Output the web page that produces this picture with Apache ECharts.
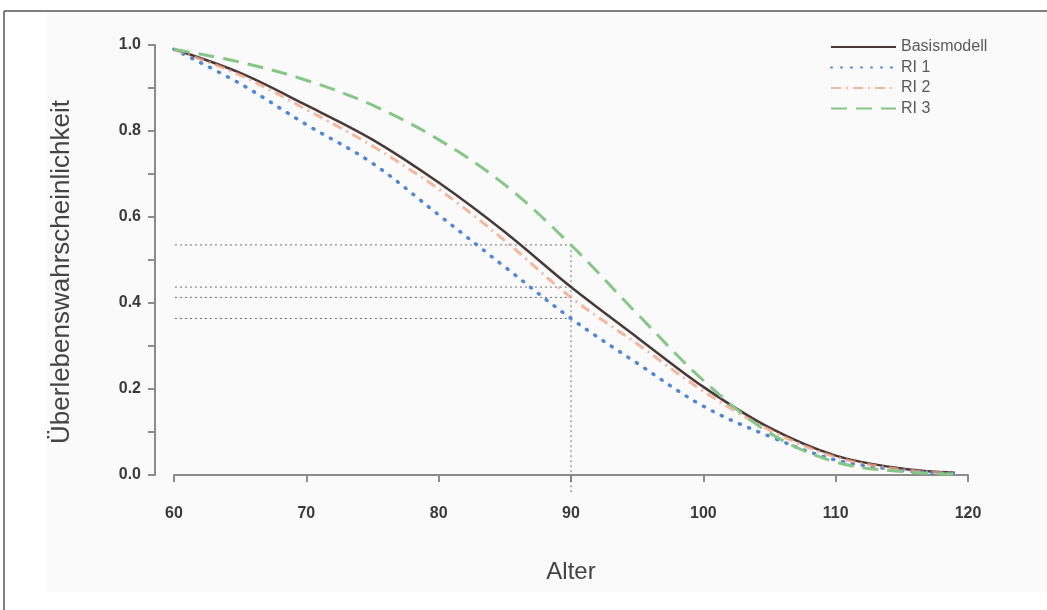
<!DOCTYPE html>
<html>
<head>
<meta charset="utf-8">
<script src="https://cdn.jsdelivr.net/npm/echarts@6/dist/echarts.min.js"></script>
<style>
html,body{margin:0;padding:0;background:#ffffff;}
#chart{width:1047px;height:610px;}
</style>
</head>
<body>
<div id="chart"></div>
<script>
// ---- data ----
const ages  = [60, 65, 70, 75, 80, 85, 90, 95, 100, 105, 110, 115, 119];
const basis = [0.99, 0.935, 0.86, 0.78, 0.68, 0.565, 0.437, 0.32, 0.205, 0.11, 0.045, 0.015, 0.005];
const ri1   = [0.99, 0.91, 0.815, 0.725, 0.605, 0.484, 0.364, 0.26, 0.16, 0.09, 0.035, 0.011, 0.003];
const ri2   = [0.99, 0.93, 0.85, 0.765, 0.665, 0.545, 0.413, 0.305, 0.195, 0.105, 0.042, 0.013, 0.004];
const ri3   = [0.99, 0.96, 0.918, 0.86, 0.78, 0.675, 0.535, 0.375, 0.22, 0.098, 0.03, 0.008, 0.002];
const seriesNames = ['Basismodell', 'RI 1', 'RI 2', 'RI 3'];
const refAge = 90;
const refValues = [0.535, 0.437, 0.413, 0.364];
const xTicks = [60, 70, 80, 90, 100, 110, 120];
const yTicks = [0.0, 0.2, 0.4, 0.6, 0.8, 1.0];
const axisStartAge = 58.56;   // where the (offset) y-axis sits, in data units
const axisBottomValue = -0.04; // where the (offset) x-axis sits, in data units

const pairs = (xs, ys) => xs.map((x, i) => [x, ys[i]]);

const chart = echarts.init(document.getElementById('chart'), null, {renderer: 'canvas'});

const refSeries = [];
refValues.forEach(v => {
  refSeries.push({
    type: 'line', data: [[axisStartAge, v], [refAge, v]], symbol: 'none', clip: false,
    silent: true, z: 1,
    lineStyle: {color: '#6e6e6e', width: 1, type: [2, 3]}
  });
});
refSeries.push({
  type: 'line', data: [[refAge, axisBottomValue], [refAge, refValues[0]]], symbol: 'none', clip: false,
  silent: true, z: 1,
  lineStyle: {color: '#6e6e6e', width: 1, type: [2, 3]}
});

const option = {
  backgroundColor: '#ffffff',
  animation: false,
  graphic: [
    {type: 'rect', shape: {x: 47, y: 12, width: 1000, height: 580}, style: {fill: '#fafafa'}, z: -10, silent: true},
    {type: 'line', shape: {x1: 4, y1: 11, x2: 1047, y2: 11}, style: {stroke: '#555', lineWidth: 1.5}, z: -5},
    {type: 'line', shape: {x1: 4, y1: 11, x2: 4, y2: 610}, style: {stroke: '#555', lineWidth: 1.5}, z: -5}
  ],
  grid: {left: 174, right: 79, top: 45, bottom: 135, containLabel: false},
  legend: {
    orient: 'vertical', left: 825, top: 34, itemWidth: 65, itemHeight: 14, itemGap: 4.5,
    data: seriesNames,
    itemStyle: {opacity: 0},
    textStyle: {fontFamily: 'Liberation Sans', fontSize: 16, color: '#5a5a5a'}
  },
  xAxis: {
    type: 'value', min: xTicks[0], max: xTicks[xTicks.length - 1], interval: 10, offset: 17,
    name: 'Alter', nameLocation: 'middle', nameGap: 68,
    nameTextStyle: {fontFamily: 'Liberation Sans', fontSize: 24, color: '#444'},
    axisLine: {show: true, lineStyle: {color: '#8c8c8c', width: 2}},
    axisTick: {show: true, length: 7, lineStyle: {color: '#8c8c8c', width: 2}},
    axisLabel: {margin: 14, fontFamily: 'Liberation Sans', fontSize: 16, fontWeight: 'bold', color: '#3a3a3a'},
    splitLine: {show: false}
  },
  yAxis: {
    type: 'value', min: 0, max: 1, interval: 0.1, offset: 19,
    name: 'Überlebenswahrscheinlichkeit', nameLocation: 'middle', nameGap: 80,
    nameTextStyle: {fontFamily: 'Liberation Sans', fontSize: 26, color: '#444', padding: [0, 24, 0, 0]},
    axisLine: {show: true, lineStyle: {color: '#8c8c8c', width: 2}},
    axisTick: {show: true, length: 7, lineStyle: {color: '#8c8c8c', width: 2}},
    axisLabel: {
      margin: 14, fontFamily: 'Liberation Sans', fontSize: 16, fontWeight: 'bold', color: '#3a3a3a',
      formatter: v => {
        const t = Math.round(v * 10);
        return t % 2 === 0 ? yTicks[t / 2].toFixed(1) : '';
      }
    },
    splitLine: {show: false}
  },
  series: refSeries.concat([
    {name: seriesNames[0], type: 'line', data: pairs(ages, basis), symbol: 'none', smooth: 0.35, z: 3,
      itemStyle: {color: '#4a3838'}, lineStyle: {color: '#4a3838', width: 2.5}},
    {name: seriesNames[1], type: 'line', data: pairs(ages, ri1), symbol: 'none', smooth: 0.35, z: 4,
      itemStyle: {color: '#4f86d6'}, lineStyle: {color: '#4f86d6', width: 3.5, type: [1, 9], cap: 'round'}},
    {name: seriesNames[2], type: 'line', data: pairs(ages, ri2), symbol: 'none', smooth: 0.35, z: 5,
      itemStyle: {color: '#f2a07e'}, lineStyle: {color: '#f2a07e', width: 3, type: [10, 5, 2, 5], opacity: 0.75}},
    {name: seriesNames[3], type: 'line', data: pairs(ages, ri3), symbol: 'none', smooth: 0.35, z: 6,
      itemStyle: {color: '#86c686'}, lineStyle: {color: '#86c686', width: 3, type: [16, 9]}}
  ])
};
chart.setOption(option);
</script>
</body>
</html>
